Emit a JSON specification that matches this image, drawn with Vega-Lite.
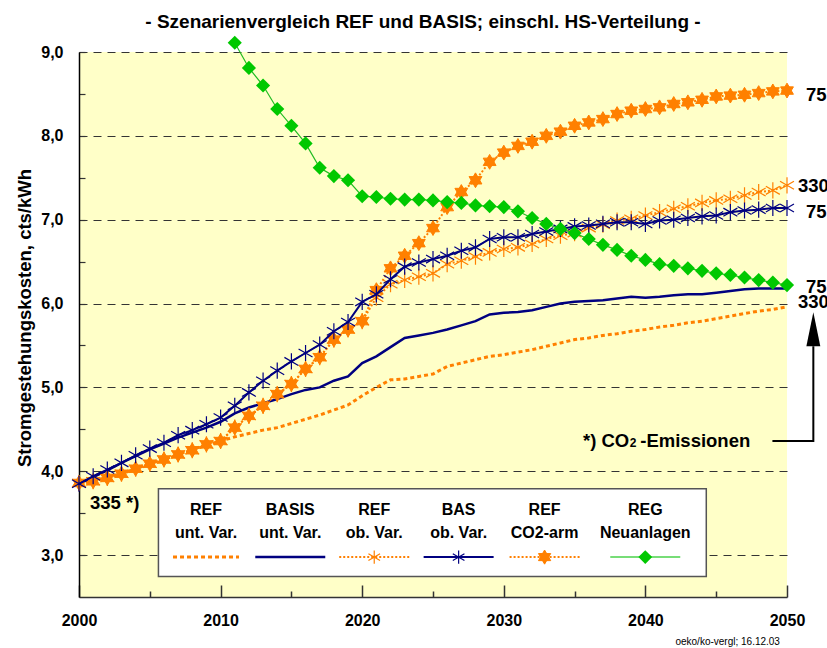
{
  "$schema": "https://vega.github.io/schema/vega-lite/v6.json",
  "width": 708,
  "height": 545,
  "autosize": "none",
  "padding": {"left": 79, "top": 52, "right": 40, "bottom": 51},
  "background": "white",
  "config": {
    "view": {"fill": "#FFFFC8", "stroke": null},
    "font": "Liberation Sans"
  },
  "title": {
    "text": "- Szenarienvergleich REF und BASIS; einschl. HS-Verteilung -",
    "font": "Liberation Sans", "fontSize": 19, "fontWeight": "bold", "color": "black",
    "anchor": "middle", "dx": -10, "dy": 21, "baseline": "alphabetic", "offset": 10
  },
  "datasets": {
    "main": [
      {"year":2000,"RU":3.85,"BU":3.85,"RO":3.86,"BO":3.85,"RC":3.86,"RG":null},
      {"year":2001,"RU":3.88,"BU":3.93,"RO":3.88,"BO":3.94,"RC":3.88,"RG":null},
      {"year":2002,"RU":3.93,"BU":4.01,"RO":3.92,"BO":4.02,"RC":3.92,"RG":null},
      {"year":2003,"RU":3.97,"BU":4.10,"RO":3.97,"BO":4.10,"RC":3.97,"RG":null},
      {"year":2004,"RU":4.03,"BU":4.18,"RO":4.03,"BO":4.19,"RC":4.03,"RG":null},
      {"year":2005,"RU":4.09,"BU":4.26,"RO":4.09,"BO":4.27,"RC":4.09,"RG":null},
      {"year":2006,"RU":4.14,"BU":4.33,"RO":4.14,"BO":4.34,"RC":4.14,"RG":null},
      {"year":2007,"RU":4.20,"BU":4.40,"RO":4.20,"BO":4.43,"RC":4.20,"RG":null},
      {"year":2008,"RU":4.25,"BU":4.46,"RO":4.25,"BO":4.49,"RC":4.25,"RG":null},
      {"year":2009,"RU":4.31,"BU":4.52,"RO":4.32,"BO":4.56,"RC":4.32,"RG":null},
      {"year":2010,"RU":4.36,"BU":4.59,"RO":4.36,"BO":4.64,"RC":4.36,"RG":null},
      {"year":2011,"RU":4.41,"BU":4.69,"RO":4.52,"BO":4.78,"RC":4.52,"RG":9.11},
      {"year":2012,"RU":4.45,"BU":4.76,"RO":4.66,"BO":4.94,"RC":4.66,"RG":8.81},
      {"year":2013,"RU":4.49,"BU":4.81,"RO":4.78,"BO":5.08,"RC":4.78,"RG":8.60},
      {"year":2014,"RU":4.52,"BU":4.86,"RO":4.92,"BO":5.20,"RC":4.92,"RG":8.32},
      {"year":2015,"RU":4.57,"BU":4.92,"RO":5.04,"BO":5.31,"RC":5.04,"RG":8.12},
      {"year":2016,"RU":4.62,"BU":4.97,"RO":5.22,"BO":5.41,"RC":5.22,"RG":7.91},
      {"year":2017,"RU":4.67,"BU":5.00,"RO":5.36,"BO":5.51,"RC":5.36,"RG":7.62},
      {"year":2018,"RU":4.73,"BU":5.08,"RO":5.57,"BO":5.67,"RC":5.57,"RG":7.52},
      {"year":2019,"RU":4.79,"BU":5.13,"RO":5.69,"BO":5.78,"RC":5.69,"RG":7.47},
      {"year":2020,"RU":4.90,"BU":5.29,"RO":5.79,"BO":6.02,"RC":5.79,"RG":7.28},
      {"year":2021,"RU":5.00,"BU":5.37,"RO":6.07,"BO":6.11,"RC":6.16,"RG":7.27},
      {"year":2022,"RU":5.09,"BU":5.48,"RO":6.23,"BO":6.29,"RC":6.42,"RG":7.25},
      {"year":2023,"RU":5.10,"BU":5.59,"RO":6.28,"BO":6.44,"RC":6.57,"RG":7.24},
      {"year":2024,"RU":5.13,"BU":5.62,"RO":6.32,"BO":6.49,"RC":6.72,"RG":7.24},
      {"year":2025,"RU":5.16,"BU":5.65,"RO":6.36,"BO":6.53,"RC":6.90,"RG":7.23},
      {"year":2026,"RU":5.25,"BU":5.69,"RO":6.47,"BO":6.57,"RC":7.15,"RG":7.21},
      {"year":2027,"RU":5.29,"BU":5.74,"RO":6.51,"BO":6.63,"RC":7.33,"RG":7.20},
      {"year":2028,"RU":5.33,"BU":5.79,"RO":6.56,"BO":6.67,"RC":7.47,"RG":7.17},
      {"year":2029,"RU":5.37,"BU":5.87,"RO":6.61,"BO":6.77,"RC":7.69,"RG":7.16},
      {"year":2030,"RU":5.39,"BU":5.89,"RO":6.65,"BO":6.79,"RC":7.80,"RG":7.15},
      {"year":2031,"RU":5.42,"BU":5.90,"RO":6.67,"BO":6.79,"RC":7.88,"RG":7.10},
      {"year":2032,"RU":5.45,"BU":5.92,"RO":6.71,"BO":6.83,"RC":7.93,"RG":7.02},
      {"year":2033,"RU":5.49,"BU":5.96,"RO":6.77,"BO":6.86,"RC":8.00,"RG":6.95},
      {"year":2034,"RU":5.53,"BU":6.00,"RO":6.81,"BO":6.89,"RC":8.05,"RG":6.89},
      {"year":2035,"RU":5.57,"BU":6.02,"RO":6.84,"BO":6.92,"RC":8.12,"RG":6.84},
      {"year":2036,"RU":5.59,"BU":6.03,"RO":6.90,"BO":6.93,"RC":8.16,"RG":6.77},
      {"year":2037,"RU":5.62,"BU":6.04,"RO":6.94,"BO":6.95,"RC":8.20,"RG":6.70},
      {"year":2038,"RU":5.64,"BU":6.06,"RO":6.99,"BO":6.97,"RC":8.26,"RG":6.64},
      {"year":2039,"RU":5.67,"BU":6.08,"RO":7.01,"BO":6.97,"RC":8.30,"RG":6.57},
      {"year":2040,"RU":5.69,"BU":6.07,"RO":7.05,"BO":6.95,"RC":8.32,"RG":6.52},
      {"year":2041,"RU":5.72,"BU":6.08,"RO":7.09,"BO":6.99,"RC":8.34,"RG":6.47},
      {"year":2042,"RU":5.74,"BU":6.10,"RO":7.13,"BO":7.00,"RC":8.38,"RG":6.45},
      {"year":2043,"RU":5.77,"BU":6.11,"RO":7.16,"BO":7.02,"RC":8.40,"RG":6.42},
      {"year":2044,"RU":5.79,"BU":6.11,"RO":7.20,"BO":7.04,"RC":8.43,"RG":6.39},
      {"year":2045,"RU":5.82,"BU":6.13,"RO":7.23,"BO":7.05,"RC":8.47,"RG":6.36},
      {"year":2046,"RU":5.85,"BU":6.15,"RO":7.25,"BO":7.09,"RC":8.48,"RG":6.34},
      {"year":2047,"RU":5.88,"BU":6.17,"RO":7.29,"BO":7.11,"RC":8.49,"RG":6.31},
      {"year":2048,"RU":5.91,"BU":6.18,"RO":7.33,"BO":7.12,"RC":8.51,"RG":6.28},
      {"year":2049,"RU":5.93,"BU":6.18,"RO":7.35,"BO":7.14,"RC":8.53,"RG":6.25},
      {"year":2050,"RU":5.96,"BU":6.18,"RO":7.41,"BO":7.14,"RC":8.54,"RG":6.22}
    ],
    "leg": [
      {"k":"RU","label":"REF\nunt. Var.","year":2008.97,"v":3.48,"vs":2.976},
      {"k":"BU","label":"BASIS\nunt. Var.","year":2014.92,"v":3.48,"vs":2.976},
      {"k":"RO","label":"REF\nob. Var.","year":2020.85,"v":3.48,"vs":2.976},
      {"k":"BO","label":"BAS\nob. Var.","year":2026.81,"v":3.48,"vs":2.976},
      {"k":"RC","label":"REF\nCO2-arm","year":2032.88,"v":3.48,"vs":2.976},
      {"k":"RG","label":"REG\nNeuanlagen","year":2039.99,"v":3.48,"vs":2.976}
    ]
  },
  "encoding": {
    "x": {
      "field": "year", "type": "quantitative",
      "scale": {"domain": [2000, 2050], "nice": false, "zero": false},
      "axis": {
        "title": null,
        "values": [2000, 2005, 2010, 2015, 2020, 2025, 2030, 2035, 2040, 2045, 2050],
        "labelExpr": "datum.value % 10 === 0 ? '' + datum.value : ''",
        "labelFont": "Liberation Sans", "labelFontSize": 16, "labelFontWeight": "bold", "labelColor": "black",
        "labelPadding": 27, "labelFlush": false, "labelOverlap": false,
        "domainColor": "#333", "domainWidth": 1.5,
        "tickColor": "#333", "tickWidth": 1.5,
        "tickSize": {"condition": {"test": "datum.value % 10 === 0", "value": -12}, "value": -6},
        "grid": false
      }
    },
    "y": {
      "field": "v", "type": "quantitative",
      "scale": {"domain": [2.5, 9], "nice": false, "zero": false},
      "axis": {
        "title": "Stromgestehungskosten, cts/kWh",
        "titleFont": "Liberation Sans", "titleFontSize": 18.5, "titleFontWeight": "bold", "titleColor": "black",
        "titleX": -45, "titleY": 265.5, "titleAlign": "center", "titleAngle": -90, "titleBaseline": "bottom",
        "values": [3, 3.5, 4, 4.5, 5, 5.5, 6, 6.5, 7, 7.5, 8, 8.5, 9],
        "labelExpr": "datum.value % 1 === 0 ? replace(format(datum.value, '.1f'), '.', ',') : ''",
        "labelFont": "Liberation Sans", "labelFontSize": 16, "labelFontWeight": "bold", "labelColor": "black",
        "labelPadding": 22, "labelOverlap": false, "labelFlush": false,
        "tickSize": -6, "tickColor": "#333", "tickWidth": 1.2,
        "domainColor": "black", "domainWidth": 1.5,
        "grid": true, "gridDash": [8, 6], "gridColor": "#333", "gridWidth": 1,
        "gridOpacity": {"condition": {"test": "datum.value % 1 !== 0", "value": 0}, "value": 1}
      }
    }
  },
  "layer": [
    {
      "data": {"values": [{}]},
      "mark": {"type": "rule", "color": "black", "strokeWidth": 1.5},
      "encoding": {"x": {"datum": 2050}, "y": {"datum": 2.5}, "y2": {"datum": 9}}
    },
    {
      "data": {"name": "main"},
      "transform": [{"fold": ["RU"], "as": ["s", "v"]}],
      "mark": {"type": "line", "color": "#FF8000", "strokeWidth": 3, "strokeDash": [4, 3]}
    },
    {
      "data": {"name": "main"},
      "transform": [{"fold": ["BU"], "as": ["s", "v"]}],
      "mark": {"type": "line", "color": "#000080", "strokeWidth": 2.5}
    },
    {
      "data": {"name": "main"},
      "transform": [{"fold": ["RO"], "as": ["s", "v"]}],
      "mark": {"type": "line", "color": "#FF8000", "strokeWidth": 2, "strokeDash": [2, 2]}
    },
    {
      "data": {"name": "main"},
      "transform": [{"fold": ["RO"], "as": ["s", "v"]}],
      "mark": {"type": "point", "shape": "M0,-1L0,1M-0.866,-0.5L0.866,0.5M-0.866,0.5L0.866,-0.5", "filled": false, "stroke": "#FF8000", "strokeWidth": 1.2, "size": 260, "opacity": 1}
    },
    {
      "data": {"name": "main"},
      "transform": [{"fold": ["RC"], "as": ["s", "v"]}],
      "mark": {"type": "line", "color": "#FF8000", "strokeWidth": 2, "strokeDash": [2, 2]}
    },
    {
      "data": {"name": "main"},
      "transform": [{"fold": ["RC"], "as": ["s", "v"]}],
      "mark": {"type": "point", "shape": "M0,-1L0.866,0.5L-0.866,0.5Z M0,1L-0.866,-0.5L0.866,-0.5Z", "filled": true, "fill": "#FF8000", "stroke": "#FF8000", "strokeWidth": 1, "size": 220, "opacity": 1}
    },
    {
      "data": {"name": "main"},
      "transform": [{"fold": ["BO"], "as": ["s", "v"]}],
      "mark": {"type": "line", "color": "#000080", "strokeWidth": 2}
    },
    {
      "data": {"name": "main"},
      "transform": [{"fold": ["BO"], "as": ["s", "v"]}],
      "mark": {"type": "point", "shape": "M0,-1L0,1M-0.866,-0.5L0.866,0.5M-0.866,0.5L0.866,-0.5", "filled": false, "stroke": "#000080", "strokeWidth": 1.2, "size": 260, "opacity": 1}
    },
    {
      "data": {"name": "main"},
      "transform": [{"fold": ["RG"], "as": ["s", "v"]}, {"filter": "datum.v != null"}],
      "mark": {"type": "line", "color": "#22BB22", "strokeWidth": 1.2}
    },
    {
      "data": {"name": "main"},
      "transform": [{"fold": ["RG"], "as": ["s", "v"]}, {"filter": "datum.v != null"}],
      "mark": {"type": "point", "shape": "diamond", "filled": true, "fill": "#00C800", "strokeWidth": 0, "size": 200, "opacity": 1}
    },
    {
      "data": {"values": [{"year": 2005.61, "x2": 2044.3, "v": 2.745, "v2": 3.79}]},
      "mark": {"type": "rect", "fill": "white", "stroke": "#555", "strokeWidth": 1.5},
      "encoding": {"x2": {"field": "x2"}, "y2": {"field": "v2"}}
    },
    {
      "data": {"name": "leg"},
      "mark": {"type": "text", "lineBreak": "\n", "align": "center", "baseline": "alphabetic", "font": "Liberation Sans", "fontSize": 16, "fontWeight": "bold", "color": "black", "lineHeight": 22.7},
      "encoding": {"text": {"field": "label"}}
    },
    {
      "data": {"name": "leg"},
      "transform": [{"filter": "datum.k === 'RU'"}],
      "mark": {"type": "rule", "color": "#FF8000", "strokeWidth": 3, "strokeDash": [4, 3], "xOffset": -33, "x2Offset": 33},
      "encoding": {"x2": {"field": "year"}, "y": {"field": "vs", "type": "quantitative"}}
    },
    {
      "data": {"name": "leg"},
      "transform": [{"filter": "datum.k === 'BU'"}],
      "mark": {"type": "rule", "color": "#000080", "strokeWidth": 2.5, "xOffset": -35, "x2Offset": 35},
      "encoding": {"x2": {"field": "year"}, "y": {"field": "vs", "type": "quantitative"}}
    },
    {
      "data": {"name": "leg"},
      "transform": [{"filter": "datum.k === 'RO' || datum.k === 'RC'"}],
      "mark": {"type": "rule", "color": "#FF8000", "strokeWidth": 2, "strokeDash": [2, 2], "xOffset": -35, "x2Offset": 35},
      "encoding": {"x2": {"field": "year"}, "y": {"field": "vs", "type": "quantitative"}}
    },
    {
      "data": {"name": "leg"},
      "transform": [{"filter": "datum.k === 'BO'"}],
      "mark": {"type": "rule", "color": "#000080", "strokeWidth": 2, "xOffset": -35, "x2Offset": 35},
      "encoding": {"x2": {"field": "year"}, "y": {"field": "vs", "type": "quantitative"}}
    },
    {
      "data": {"name": "leg"},
      "transform": [{"filter": "datum.k === 'RG'"}],
      "mark": {"type": "rule", "color": "#77DD77", "strokeWidth": 2, "xOffset": -35, "x2Offset": 35},
      "encoding": {"x2": {"field": "year"}, "y": {"field": "vs", "type": "quantitative"}}
    },
    {
      "data": {"name": "leg"},
      "transform": [{"filter": "datum.k === 'RO'"}],
      "mark": {"type": "point", "shape": "M0,-1L0,1M-0.866,-0.5L0.866,0.5M-0.866,0.5L0.866,-0.5", "filled": false, "stroke": "#FF8000", "strokeWidth": 1.2, "size": 180, "opacity": 1},
      "encoding": {"y": {"field": "vs", "type": "quantitative"}}
    },
    {
      "data": {"name": "leg"},
      "transform": [{"filter": "datum.k === 'BO'"}],
      "mark": {"type": "point", "shape": "M0,-1L0,1M-0.866,-0.5L0.866,0.5M-0.866,0.5L0.866,-0.5", "filled": false, "stroke": "#000080", "strokeWidth": 1.2, "size": 180, "opacity": 1},
      "encoding": {"y": {"field": "vs", "type": "quantitative"}}
    },
    {
      "data": {"name": "leg"},
      "transform": [{"filter": "datum.k === 'RC'"}],
      "mark": {"type": "point", "shape": "M0,-1L0.866,0.5L-0.866,0.5Z M0,1L-0.866,-0.5L0.866,-0.5Z", "filled": true, "fill": "#FF8000", "stroke": "#FF8000", "strokeWidth": 1, "size": 200, "opacity": 1},
      "encoding": {"y": {"field": "vs", "type": "quantitative"}}
    },
    {
      "data": {"name": "leg"},
      "transform": [{"filter": "datum.k === 'RG'"}],
      "mark": {"type": "point", "shape": "diamond", "filled": true, "fill": "#00C800", "strokeWidth": 0, "size": 190, "opacity": 1},
      "encoding": {"y": {"field": "vs", "type": "quantitative"}}
    },
    {
      "data": {"values": [{"label": "75", "year": 2050, "v": 8.412}, {"label": "75", "year": 2050, "v": 7.024}, {"label": "75", "year": 2050, "v": 6.123}]},
      "mark": {"type": "text", "align": "left", "baseline": "alphabetic", "dx": 19, "font": "Liberation Sans", "fontSize": 18.5, "fontWeight": "bold", "color": "black"},
      "encoding": {"text": {"field": "label"}}
    },
    {
      "data": {"values": [{"label": "330", "year": 2050, "v": 7.329}, {"label": "330", "year": 2050, "v": 5.944}]},
      "mark": {"type": "text", "align": "left", "baseline": "alphabetic", "dx": 11, "font": "Liberation Sans", "fontSize": 18.5, "fontWeight": "bold", "color": "black"},
      "encoding": {"text": {"field": "label"}}
    },
    {
      "data": {"values": [{"label": "335 *)", "year": 2000, "v": 3.551}]},
      "mark": {"type": "text", "align": "left", "baseline": "alphabetic", "dx": 11, "font": "Liberation Sans", "fontSize": 18.5, "fontWeight": "bold", "color": "black"},
      "encoding": {"text": {"field": "label"}}
    },
    {
      "data": {"values": [{"label": "*) CO", "year": 2038.86, "v": 4.29}]},
      "mark": {"type": "text", "align": "right", "baseline": "alphabetic", "font": "Liberation Sans", "fontSize": 18.5, "fontWeight": "bold", "color": "black"},
      "encoding": {"text": {"field": "label"}}
    },
    {
      "data": {"values": [{"label": "2", "year": 2038.86, "v": 4.29}]},
      "mark": {"type": "text", "align": "left", "baseline": "alphabetic", "dx": 0.5, "font": "Liberation Sans", "fontSize": 12, "fontWeight": "bold", "color": "black"},
      "encoding": {"text": {"field": "label"}}
    },
    {
      "data": {"values": [{"label": "-Emissionen", "year": 2038.86, "v": 4.29}]},
      "mark": {"type": "text", "align": "left", "baseline": "alphabetic", "dx": 11, "font": "Liberation Sans", "fontSize": 18.5, "fontWeight": "bold", "color": "black"},
      "encoding": {"text": {"field": "label"}}
    },
    {
      "data": {"values": [{"o": 1, "year": 2048.97, "v": 4.36}, {"o": 2, "year": 2051.86, "v": 4.36}, {"o": 3, "year": 2051.86, "v": 5.49}]},
      "mark": {"type": "line", "color": "black", "strokeWidth": 2},
      "encoding": {"order": {"field": "o", "type": "quantitative"}}
    },
    {
      "data": {"values": [{"year": 2051.86, "v": 5.694}]},
      "mark": {"type": "point", "shape": "M0,-1L0.41,1L-0.41,1Z", "filled": true, "fill": "black", "strokeWidth": 0, "size": 1156, "opacity": 1}
    },
    {
      "data": {"values": [{"label": "oeko/ko-vergl; 16.12.03", "year": 2042.12, "v": 1.926}]},
      "mark": {"type": "text", "align": "left", "baseline": "alphabetic", "font": "Liberation Sans", "fontSize": 10, "color": "black"},
      "encoding": {"text": {"field": "label"}}
    }
  ]
}
